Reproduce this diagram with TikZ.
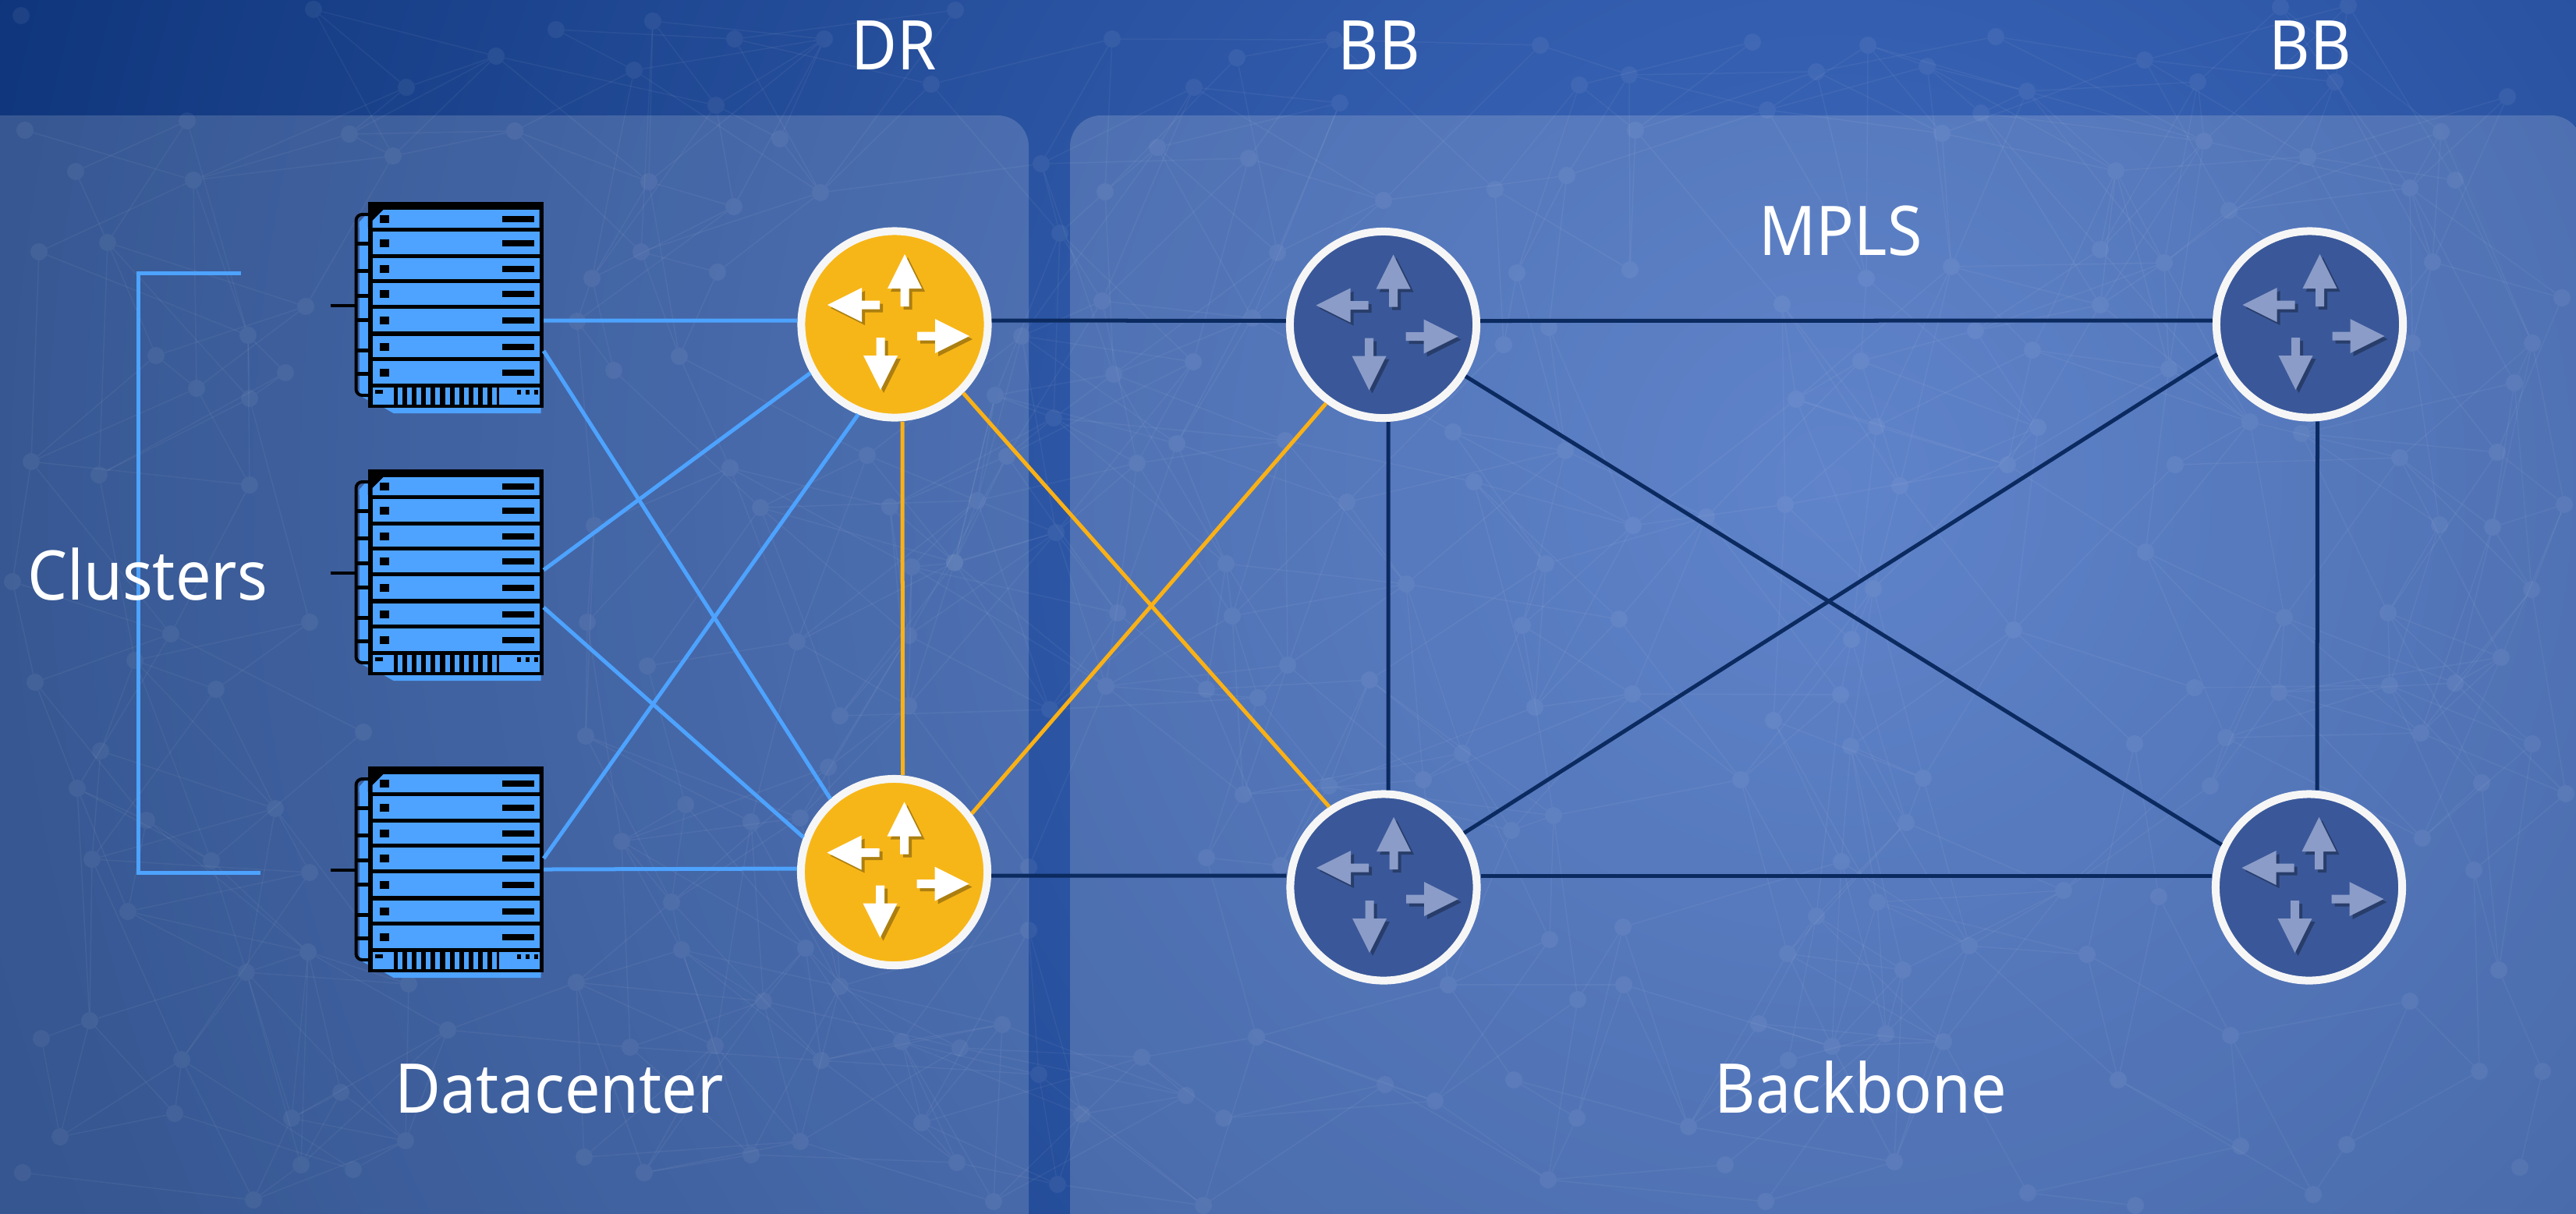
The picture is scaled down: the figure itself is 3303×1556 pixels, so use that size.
\documentclass[tikz,border=0pt]{standalone}
\usepackage{fontspec}
\setmainfont[FakeStretch=0.92]{Noto Sans}
\usetikzlibrary{calc}
\usetikzlibrary{positioning}
\definecolor{bgdark}{HTML}{0F367C}
\definecolor{bgmid}{HTML}{406BC0}
\definecolor{ringwhite}{HTML}{F6F6F6}
\definecolor{routergold}{HTML}{F7B618}
\definecolor{routerblue}{HTML}{3A5899}
\definecolor{arrowblue}{HTML}{8B9CC8}
\definecolor{linkgold}{HTML}{F9B116}
\definecolor{linkdark}{HTML}{0B2A60}
\definecolor{rackblue}{HTML}{4DA3FF}
\pgfdeclareradialshading{bgglow}{\pgfpoint{0bp}{0bp}}{color(0bp)=(bgmid); color(22.7bp)=(bgdark); color(50bp)=(bgdark)}
\tikzset{panel/.style={fill=white,fill opacity=#1,rounded corners=0.4cm}}
\tikzset{router/.style={circle,draw=ringwhite,line width=0.1cm,inner sep=0pt,minimum size=2.39cm,fill=#1}}
\tikzset{label/.style={text=white,anchor=base,inner sep=0pt,font=\fontsize{25}{30}\selectfont}}
\tikzset{bluelink/.style={draw=rackblue,line width=0.05cm}}
\tikzset{goldlink/.style={draw=linkgold,line width=0.05cm}}
\tikzset{darklink/.style={draw=linkdark,line width=0.05cm}}
\tikzset{rackbox/.style={fill=black,inner sep=0pt,outer sep=0pt,minimum width=2.25cm,minimum height=2.64cm}}
\tikzset{pics/routerarrows/.style={code={
  \foreach \ax/\ay/\ang in {13/-90/0,-86/-25/90,-18/84/180,96/15/-90} {
    \fill[black,opacity=0.3,shift={({\ax+4},{\ay+4})},rotate=\ang] (0,0) -- (22,44) -- (5.5,44) -- (5.5,67) -- (-5.5,67) -- (-5.5,44) -- (-22,44) -- cycle;
    \fill[#1,shift={(\ax,\ay)},rotate=\ang] (0,0) -- (22,44) -- (5.5,44) -- (5.5,67) -- (-5.5,67) -- (-5.5,44) -- (-22,44) -- cycle;
  }
}}}
\tikzset{pics/server/.style={code={
  \fill[rackblue] (-92,132) -- (-80,139) -- (109,139) -- (109,132) -- cycle;
  \fill[rackblue] (-124,-106) -- (-113,-118) -- (-113,-99) -- (-124,-99) -- cycle;
  \fill[rackblue] (-124,116) -- (-113,122) -- (-113,116) -- cycle;
  \foreach \st/\sb in {-99/-81,-76/-46,-41/-14,-9/17,22/56,61/86,91/116}
    \fill[rackblue] (-124,\st) rectangle (-113,\sb);
  \foreach \st/\sb in {-81/-76,-46/-41,-14/-9,17/22,56/61,86/91}
    \fill[black] (-127,\st) rectangle (-113,\sb);
  \draw[black,line width=0.04cm,rounded corners=0.08cm] (-112,-116) -- (-128,-116) -- (-128,116) -- (-112,116);
  \draw[black,line width=0.04cm] (-161,1) -- (-128,1);
  \node[rackbox] (-box) at (0,0) {};
  \fill[rackblue] (-93,-122) -- (107,-122) -- (107,-99) -- (-107,-99) -- (-107,-108) -- cycle;
  \foreach \rt/\rb in {-94/-65,-60/-33,-28/0,5/34,40/67,72/101}
    \fill[rackblue] (-107,\rt) rectangle (107,\rb);
  \foreach \rt/\rb in {-122/-99,-94/-65,-60/-33,-28/0,5/34,40/67,72/101} {
    \fill[black] (-98,{(\rt+\rb)/2-5}) rectangle (-86,{(\rt+\rb)/2+5});
    \fill[black] (59,{(\rt+\rb)/2-4}) rectangle (100,{(\rt+\rb)/2+4});
  }
  \fill[rackblue] (-107,106) rectangle (-80,128);
  \fill[rackblue] (55,106) rectangle (107,128);
  \foreach \gx in {0,...,11}
    \fill[rackblue] ({-74.5+12.1*\gx},106) rectangle ({-68.5+12.1*\gx},128);
  \fill[black] (-104,109) rectangle (-94,114);
  \foreach \dx in {78,89,100}
    \fill[black] (\dx,109) rectangle ({\dx+5},115);
}}}
\def\meshdots{32/167,240/155,448/172,97/220,248/231,138/311,50/323,392/393,318/430,200/456,366/478,252/498,320/511,40/592,127/609,320/622,
27/20,402/12,713/38,837/27,942/50,1057/50,1225/13,1426/50,636/72,813/90,521/112,1194/108,918/135,660/168,1000/178,504/200,1335/210,832/233,1052/247,941/265,822/323,759/357,920/349,740/412,871/457,787/475,1276/507,
1586/74,1531/112,1711/51,1718/132,1975/58,2025/109,2089/96,2247/54,2266/141,2097/167,1484/189,1601/203,1417/246,1774/257,1917/243,2009/225,1359/299,1638/324,2090/346,1945/350,1413/386,2285/390,1606/408,1928/442,1986/420,1530/464,1428/480,1310/431,1351/536,1863/554,1648/565,1509/569,1458/594,2007/578,1890/618,1727/644,2094/674,2188/663,2289/647,1354/683,
2395/58,2559/47,2471/85,2329/92,2599/117,2750/77,2818/105,2994/105,2924/9,3011/7,3215/124,2540/145,2490/171,2826/181,2959/201,3130/169,2713/219,3090/241,3148/231,2858/270,2693/320,2502/342,2393/357,2775/337,3119/336,2693/391,3285/382,2533/424,2606/449,2386/463,2781/473,3093/440,3247/440,2303/512,3224/491,2406/547,2613/548,2885/541,2951/556,3077/587,3202/580,2789/596,2574/596,2436/623,3288/647,3128/673,3196/676,
16/746,397/798,219/813,173/847,45/875,277/884,466/939,753/798,830/854,751/944,129/963,99/1011,353/1037,188/1052,118/1102,271/1104,397/1119,879/1032,963/1054,797/1079,164/1169,861/1157,395/1221,874/1218,316/1247,739/1260,524/1262,979/1284,115/1309,574/1321,53/1332,808/1343,917/1341,233/1359,437/1401,224/1428,374/1434,77/1458,520/1463,749/1484,963/1481,386/1494,453/1500,29/1504,826/1504,325/1539,
1224/721,1169/727,1572/723,1982/723,1803/749,1433/786,1580/790,1952/802,2076/794,1022/823,1165/815,1651/853,1756/872,1418/880,1547/884,1613/895,2093/890,1077/918,1165/905,1346/910,1968/907,1875/966,1062/984,1825/1000,1704/1008,1594/1019,1992/1046,1026/1049,1938/1065,1547/1100,1319/1112,1642/1110,1319/1193,1987/1205,2081/1189,1033/1216,1077/1265,1857/1263,2023/1282,2082/1263,1285/1314,1611/1330,1156/1336,1231/1344,1053/1360,1464/1356,1332/1378,1521/1405,1776/1391,1941/1385,1840/1412,1387/1429,1569/1434,2022/1434,1182/1440,1026/1464,1227/1491,1985/1513,1356/1519,1274/1541,1543/1546,
2751/708,2402/755,2929/792,3062/786,3246/756,2374/820,2582/808,3207/843,2814/882,2922/888,3064/879,3148/876,2360/891,2274/924,2854/946,2737/954,3104/940,3247/954,2373/957,2232/1000,2466/998,2834/1008,3182/1004,3290/1018,2444/1055,2361/1105,3106/1075,3172/1116,2646/1142,2768/1150,2407/1157,2329/1175,2525/1213,2292/1223,2676/1224,2440/1244,3204/1244,3090/1284,2255/1313,2418/1326,2492/1336,2860/1328,2349/1342,2293/1360,3179/1374,3260/1374,2716/1385,2165/1445,2212/1494,2429/1490,2873/1470,3009/1468,3231/1497,2264/1541,2600/1530,2966/1532,2738/1546,
936/600,975/651,762/674,1112/584,1141/650,1253/642,1291/585,1224/722}
\begin{document}
\begin{tikzpicture}[x=0.01cm,y=-0.01cm]
\useasboundingbox (0,0) rectangle (3303,1556);

\fill[shading=bgglow] (2350,620) circle (2700);

\foreach \ax/\ay [count=\ai] in \meshdots {
  \fill[white,opacity=0.06] (\ax,\ay) circle (11);
  \foreach \bx/\by [count=\bi] in \meshdots {
    \ifnum\bi>\ai
      \ifnum\numexpr(\ax-\bx)*(\ax-\bx)+(\ay-\by)*(\ay-\by)\relax<90000
        \ifnum\numexpr(\ai*7+\bi*13)-((\ai*7+\bi*13)/5)*5\relax>0
          \draw[white,opacity=0.05,line width=0.015cm,shorten >=0.11cm,shorten <=0.11cm] (\ax,\ay) -- (\bx,\by);
        \fi
      \fi
    \fi
  }
}

\fill[panel=0.16] (-60,148) rectangle (1319,1600);
\fill[panel=0.17] (1372,148) rectangle (3311,1600);

\coordinate (brkTop) at (306,350);
\coordinate (brkBot) at (331,1119);
\draw[bluelink,line cap=rect] (brkTop) -- (177,350) -- (177,1119) -- (brkBot);

\node[label] (lblDR) at (1146,89) {DR};
\node[label] (lblBBa) at (1768,89) {BB};
\node[label] (lblBBb) at (2962,89) {BB};
\node[label] (lblMPLS) at (2360,327) {MPLS};
\node[label] (lblClusters) at (189,769) {Clusters};
\node[label] (lblDatacenter) at (717,1427) {Datacenter};
\node[label] (lblBackbone) at (2386,1427) {Backbone};

\pic (srvA) at (584.5,391) {server};
\pic (srvB) at (584.5,734) {server};
\pic (srvC) at (584.5,1115) {server};

\foreach \rname/\rx/\ry/\rfill/\rarrow in {drA/1147/416/routergold/white,drB/1146.5/1118.5/routergold/white,bbA/1773.5/416.5/routerblue/arrowblue,bbB/2961.5/416/routerblue/arrowblue,bbC/1774/1138/routerblue/arrowblue,bbD/2960.5/1138/routerblue/arrowblue} {
  \node[router=\rfill] (\rname) at (\rx,\ry) {};
  \pic at (\rname) {routerarrows=\rarrow};
}

\path[bluelink] ([yshift=-0.2cm]srvA-box.east) -- ([yshift=0.05cm]drA.west);
\path[bluelink] ([yshift=-0.59cm]srvA-box.east) -- (drB.131);
\path[bluelink] ([yshift=0.03cm]srvB-box.east) -- (drA.210);
\path[bluelink] ([yshift=-0.45cm]srvB-box.east) -- (drB.159);
\path[bluelink] ([yshift=0.14cm]srvC-box.east) -- (drA.248);
\path[bluelink] (srvC-box.east) -- ([yshift=0.045cm]drB.west);

\path[goldlink] ([xshift=0.1cm]drA.south) -- ([xshift=0.11cm]drB.north);
\path[goldlink] (drA.-45) -- (bbC.124);
\path[goldlink] (drB.37) -- (bbA.234);

\path[darklink] ([yshift=0.05cm]drA.east) -- ([yshift=0.05cm]bbA.west);
\path[darklink] ([yshift=-0.045cm]drB.east) -- ([yshift=0.15cm]bbC.west);
\path[darklink] ([yshift=0.05cm]bbA.east) -- ([yshift=0.05cm]bbB.west);
\path[darklink] ([yshift=0.15cm]bbC.east) -- ([yshift=0.15cm]bbD.west);
\path[darklink] ([xshift=0.065cm]bbA.south) -- ([xshift=0.06cm]bbC.north);
\path[darklink] ([xshift=0.1cm]bbB.south) -- ([xshift=0.105cm]bbD.north);
\path[darklink] (bbA.-32) -- (bbD.154.6);
\path[darklink] (bbC.34) -- (bbB.198);

\end{tikzpicture}
\end{document}
